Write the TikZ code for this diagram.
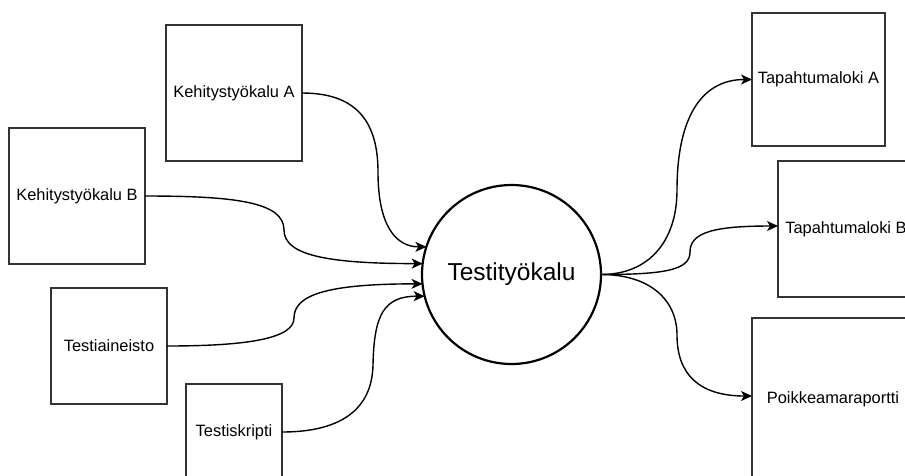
\documentclass[tikz,border=0pt]{standalone}
\usepackage{fontspec}
\setmainfont{Liberation Sans}
\usetikzlibrary{arrows.meta}

\tikzset{
  srcbox/.style={draw=black!80, line width=1.3pt, fill=white, inner sep=0pt, outer sep=0pt,
    minimum width=#1, minimum height=#1, font=\fontsize{16.4}{19}\selectfont, text=black},
  hub/.style={draw=black, line width=2.2pt, circle, fill=white, inner sep=0pt, outer sep=0pt,
    minimum size=179pt, font=\fontsize{24.5}{29}\selectfont},
  flow/.style={line width=1.4pt, draw=black, -{Stealth[length=11pt, width=10pt, inset=3pt]}}
}

\begin{document}
\begin{tikzpicture}[x=1pt, y=-1pt]
  \useasboundingbox (0,0) rectangle (905,475);
  \clip (0,0) rectangle (905,475);
  \fill[white] (0,0) rectangle (905,475);

  % central tool
  \node[hub] (tool) at (511.5,274.5) {Testityökalu};

  % inputs
  \node[srcbox=136pt] (ka) at (234,93)  {Kehitystyökalu A};
  \node[srcbox=136pt] (kb) at (77,196)  {Kehitystyökalu B};
  \node[srcbox=116pt] (ta) at (109,346) {Testiaineisto};
  \node[srcbox=96pt]  (ts) at (234,432) {Testiskripti};

  % outputs
  \node[srcbox=133pt] (la) at (818.5,79.5) {Tapahtumaloki A};
  \node[srcbox=136pt] (lb) at (846,229)    {Tapahtumaloki B};
  \node[srcbox=162pt] (pr) at (833,399)    {Poikkeamaraportti};

  % bend points of the curved connectors
  \coordinate (wka) at (378,172);
  \coordinate (wkb) at (284,230);
  \coordinate (wta) at (294,318);
  \coordinate (wts) at (373,365);
  \coordinate (wla) at (677,190);
  \coordinate (wlb) at (690,252);
  \coordinate (wpr) at (677,335);

  % connectors into the tool
  \draw[flow] (ka.east) .. controls +(53,0) and +(0,-52) .. (wka)
                        .. controls +(0,53) and +(-31,0) .. (tool.162.8);
  \draw[flow] (kb.east) .. controls +(90,0) and +(0,-28) .. (wkb)
                        .. controls +(0,25) and +(-96,0) .. (tool.173.3);
  \draw[flow] (ta.east) .. controls +(83,0) and +(0,20) .. (wta)
                        .. controls +(0,-23) and +(-96,0) .. (tool.186.7);
  \draw[flow] (ts.east) .. controls +(58,0) and +(-1,45) .. (wts)
                        .. controls +(1,-50) and +(-41,0) .. (tool.194.6);

  % connectors out of the tool
  \draw[flow] (tool.east) .. controls +(49,0) and +(0,50) .. (wla)
                          .. controls +(0,-70) and +(-52,0) .. (la.west);
  \draw[flow] (tool.east) .. controls +(64,0) and +(0,18) .. (wlb)
                          .. controls +(0,-20) and +(-63,0) .. (lb.west |- 0,226);
  \draw[flow] (tool.east) .. controls +(49,0) and +(0,-35) .. (wpr)
                          .. controls +(0,40) and +(-52,0) .. (pr.west |- 0,396);
\end{tikzpicture}
\end{document}
